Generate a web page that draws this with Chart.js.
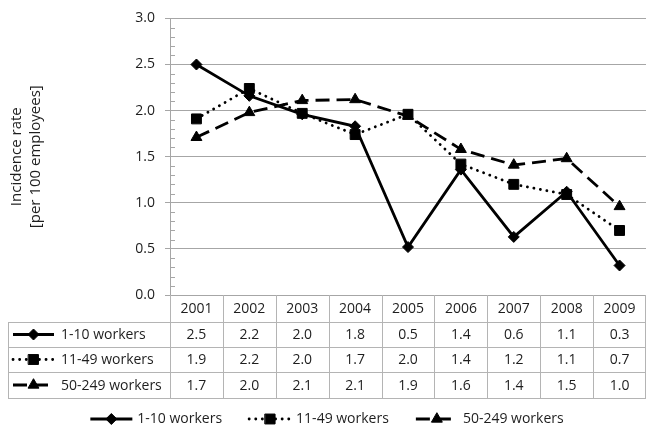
<!DOCTYPE html>
<html lang="en">
<head>
    <meta charset="UTF-8">
    <title>Incidence rate by company size</title>
    <style>
        html, body { margin: 0; padding: 0; background: #fff; }
        #chart-box { width: 654px; height: 437px; }
    </style>
</head>
<body>
    <div id="chart-box"><canvas id="rate-chart" width="654" height="437"></canvas></div>
    <script src="https://cdn.jsdelivr.net/npm/chart.js"></script>
    <script>
// values
const years = ['2001', '2002', '2003', '2004', '2005', '2006', '2007', '2008', '2009'];
const seriesNames = ['1-10 workers', '11-49 workers', '50-249 workers'];
const workers1to10 = [2.50, 2.16, 1.96, 1.83, 0.52, 1.36, 0.63, 1.12, 0.32];
const workers11to49 = [1.91, 2.24, 1.97, 1.74, 1.96, 1.42, 1.20, 1.09, 0.70];
const workers50to249 = [1.71, 1.98, 2.11, 2.12, 1.94, 1.58, 1.41, 1.48, 0.96];
const yTitle = ['Incidence rate', '[per 100 employees]'];

const FONT = '"Open Sans", sans-serif';
const TEXT = '#1e1e1e';
const GRID = '#a6a6a6';
const TABLE_LINE = '#b4b4b4';

// table rows (pixel layout under the plot)
const headerBottom = 322;
const rowLines = [322, 347, 372, 398];
const tableLeft = 8;
const legendY = 419;

Chart.defaults.font.family = FONT;
Chart.defaults.font.size = 14;
Chart.defaults.color = TEXT;

function drawSymbol(ctx, ds, x0, x1, y) {
    ctx.save();
    ctx.strokeStyle = '#000';
    ctx.fillStyle = '#000';
    ctx.lineWidth = ds.borderWidth;
    ctx.lineCap = ds.borderCapStyle || 'butt';
    ctx.setLineDash(ds.borderDash || []);
    ctx.beginPath();
    ctx.moveTo(x0, y);
    ctx.lineTo(x1, y);
    ctx.stroke();
    ctx.setLineDash([]);
    ctx.lineWidth = 1;
    Chart.helpers.drawPoint(ctx, { pointStyle: ds.pointStyle, radius: ds.pointRadius, borderWidth: 1, rotation: 0 }, (x0 + x1) / 2, y);
    ctx.restore();
}

const extras = {
    id: 'extras',
    beforeDatasetsDraw(chart) {
        // minor ticks on the value axis
        const ctx = chart.ctx;
        const y = chart.scales.y;
        const left = chart.chartArea.left;
        ctx.save();
        ctx.strokeStyle = GRID;
        ctx.lineWidth = 1;
        ctx.beginPath();
        for (let k = 0; k <= 30; k++) {
            if (k % 5 === 0) continue;
            const py = Math.round(y.getPixelForValue(k / 10)) + 0.5;
            ctx.moveTo(left, py);
            ctx.lineTo(left + 5, py);
        }
        ctx.stroke();
        ctx.restore();
    },
    afterDraw(chart) {
        const ctx = chart.ctx;
        const x = chart.scales.x;
        const area = chart.chartArea;
        const half = (x.getPixelForValue(1) - x.getPixelForValue(0)) / 2;
        const right = area.right;
        const top = Math.round(area.bottom);

        // axis title
        ctx.save();
        ctx.fillStyle = TEXT;
        ctx.font = '15px ' + FONT;
        ctx.textAlign = 'center';
        ctx.textBaseline = 'middle';
        ctx.translate(0, (area.top + area.bottom) / 2);
        ctx.rotate(-Math.PI / 2);
        ctx.fillText(yTitle[0], 0, 17);
        ctx.fillText(yTitle[1], 0, 36);
        ctx.restore();

        // data table grid
        ctx.save();
        ctx.strokeStyle = TABLE_LINE;
        ctx.lineWidth = 1;
        ctx.beginPath();
        for (let i = 0; i < years.length; i++) {
            const bx = Math.round(x.getPixelForValue(i) - half) + 0.5;
            ctx.moveTo(bx, top);
            ctx.lineTo(bx, rowLines[rowLines.length - 1]);
        }
        const rx = Math.round(right) - 0.5;
        ctx.moveTo(rx, top);
        ctx.lineTo(rx, rowLines[rowLines.length - 1]);
        ctx.moveTo(tableLeft + 0.5, headerBottom);
        ctx.lineTo(tableLeft + 0.5, rowLines[rowLines.length - 1]);
        rowLines.forEach(ly => {
            ctx.moveTo(tableLeft, ly + 0.5);
            ctx.lineTo(right, ly + 0.5);
        });
        ctx.stroke();

        ctx.fillStyle = TEXT;
        ctx.font = '14px ' + FONT;
        ctx.textAlign = 'center';
        ctx.textBaseline = 'middle';
        years.forEach((yr, i) => {
            ctx.fillText(yr, x.getPixelForValue(i), (top + headerBottom) / 2 + 1);
        });
        chart.data.datasets.forEach((ds, r) => {
            const cy = (rowLines[r] + rowLines[r + 1]) / 2 + 1;
            ctx.textAlign = 'center';
            ds.data.forEach((v, i) => {
                ctx.fillText(v.toFixed(1), x.getPixelForValue(i), cy);
            });
            drawSymbol(ctx, ds, 13, 54, cy - 1);
            ctx.textAlign = 'left';
            ctx.fillText(ds.label, 61, cy);
        });

        // legend, centred under the table
        const symW = 42, gapText = 5, gapItem = 27;
        const widths = chart.data.datasets.map(ds => symW + gapText + ctx.measureText(ds.label).width);
        const total = widths.reduce((a, b) => a + b, 0) + gapItem * (widths.length - 1);
        let lx = (chart.width - total) / 2;
        chart.data.datasets.forEach((ds, i) => {
            drawSymbol(ctx, ds, lx, lx + symW, legendY);
            ctx.textAlign = 'left';
            ctx.fillText(ds.label, lx + symW + gapText, legendY);
            lx += widths[i] + gapItem;
        });
        ctx.restore();
    }
};

new Chart(document.getElementById('rate-chart'), {
    type: 'line',
    data: {
        labels: years,
        datasets: [{
            label: seriesNames[0],
            data: workers1to10,
            borderColor: '#000',
            backgroundColor: '#000',
            borderWidth: 2.8,
            pointStyle: 'rectRot',
            pointRadius: 5.5,
            pointBorderWidth: 1
        }, {
            label: seriesNames[1],
            data: workers11to49,
            borderColor: '#000',
            backgroundColor: '#000',
            borderWidth: 2.8,
            borderDash: [0.1, 6.5],
            borderCapStyle: 'round',
            pointStyle: 'rect',
            pointRadius: 7,
            pointBorderWidth: 1
        }, {
            label: seriesNames[2],
            data: workers50to249,
            borderColor: '#000',
            backgroundColor: '#000',
            borderWidth: 2.8,
            borderDash: [14, 7],
            pointStyle: 'triangle',
            pointRadius: 6.3,
            pointBorderWidth: 1
        }]
    },
    options: {
        responsive: false,
        animation: false,
        layout: { padding: { left: 0, top: 14, right: 8, bottom: 437 - 295 } },
        plugins: {
            legend: { display: false },
            tooltip: { enabled: false }
        },
        elements: { line: { tension: 0 } },
        scales: {
            x: {
                display: false,
                offset: true
            },
            y: {
                min: 0,
                max: 3,
                afterFit(scale) { scale.width = 170; },
                ticks: {
                    stepSize: 0.5,
                    padding: 10,
                    color: TEXT,
                    font: { size: 14 },
                    callback: v => v.toFixed(1)
                },
                grid: { color: GRID, tickLength: 5, tickColor: GRID },
                border: { color: GRID }
            }
        }
    },
    plugins: [extras]
});
    </script>
</body>
</html>
